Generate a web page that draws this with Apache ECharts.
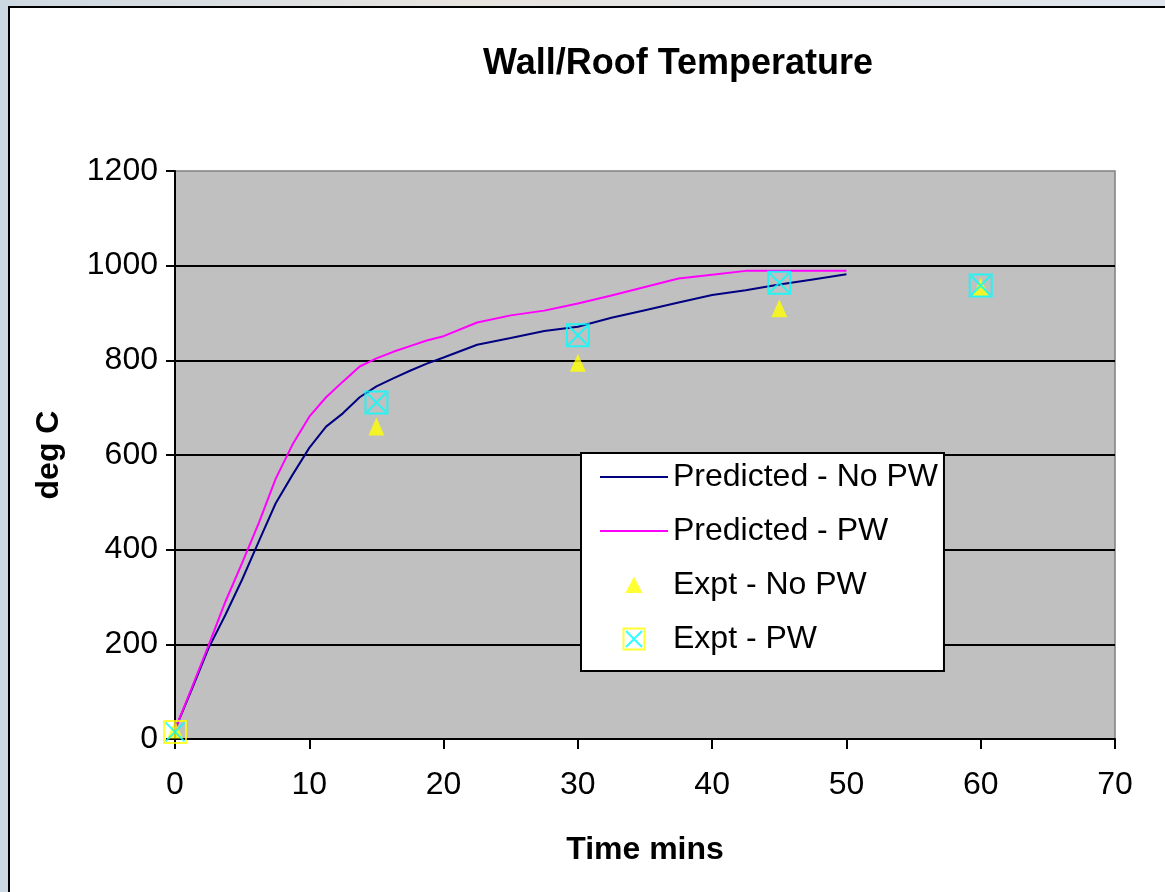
<!DOCTYPE html>
<html>
<head>
<meta charset="utf-8">
<script src="https://cdn.jsdelivr.net/npm/echarts@6/dist/echarts.min.js"></script>
<style>
  html, body { margin: 0; padding: 0; width: 1165px; height: 892px; overflow: hidden;
    background: linear-gradient(90deg, #cdd9e2 0%, #e8e4e0 40%, #dfe6ee 100%); }
  #frame { position: absolute; left: 8px; top: 6px; width: 1200px; height: 1000px;
    background: #ffffff; border: 2px solid #000; box-sizing: border-box; }
  #chart { position: absolute; left: 0; top: 0; width: 1165px; height: 892px; }
</style>
</head>
<body>
<div id="frame"></div>
<div id="chart"></div>
<script>
// ---- Data ----
const predTime = [0, 1.25, 2.5, 3.75, 5, 6.25, 7.5, 8.75, 10, 11.25, 12.5, 13.75, 15, 16.25, 17.5, 18.75, 20, 22.5, 25, 27.5, 30, 32.5, 35, 37.5, 40, 42.5, 45, 47.5, 50];
const predNoPW = [20, 105, 192, 262, 337, 418, 498, 558, 615, 660, 688, 722, 745, 762, 778, 793, 806, 833, 847, 862, 871, 890, 906, 922, 938, 948, 960, 971, 982];
const predPW   = [20, 108, 198, 290, 372, 457, 550, 622, 681, 722, 755, 787, 804, 818, 830, 842, 851, 880, 895, 905, 920, 937, 955, 973, 981, 989, 989, 989, 989];
const exptTime = [0, 15, 30, 45, 60];
const exptNoPW = [20, 660, 795, 910, 955];
const exptPW   = [15, 711, 853, 964, 958];
const xTicks = [0, 10, 20, 30, 40, 50, 60, 70];
const yTicks = [0, 200, 400, 600, 800, 1000, 1200];

const FONT = "'Liberation Sans', Arial, sans-serif";
const pairs = (xs, ys) => xs.map((x, i) => [x, ys[i]]);

const svgUrl = s => 'image://data:image/svg+xml;charset=utf-8,' + encodeURIComponent(s);
const triIcon = svgUrl("<svg xmlns='http://www.w3.org/2000/svg' width='24' height='24'><path d='M12 3.5 L20.5 20 L3.5 20 Z' fill='#ffff00'/></svg>");
const sqIcon = svgUrl("<svg xmlns='http://www.w3.org/2000/svg' width='24' height='24'><rect x='1.5' y='1.5' width='21' height='21' fill='none' stroke='#ffff00' stroke-width='2'/><path d='M4 4 L20 20 M20 4 L4 20' stroke='#00ffff' stroke-width='2' fill='none'/></svg>");
const lineIcon = 'path://M0,0L68,0L68,2L0,2Z';

const chart = echarts.init(document.getElementById('chart'), null, { renderer: 'canvas' });
chart.setOption({
  animation: false,
  backgroundColor: 'transparent',
  title: {
    text: 'Wall/Roof Temperature',
    left: 483, top: 46, padding: 0,
    textStyle: { fontFamily: FONT, fontSize: 36, fontWeight: 'bold', color: '#000' }
  },
  grid: {
    left: 175, top: 171, width: 940, height: 568,
    show: true, backgroundColor: '#c0c0c0', borderColor: '#808080', borderWidth: 1.5
  },
  legend: {
    orient: 'vertical',
    left: 581, top: 453,
    backgroundColor: '#ffffff', borderColor: '#000000', borderWidth: 2,
    padding: [8, 6, 16, 19],
    itemWidth: 68, itemHeight: 24, itemGap: 22,
    textStyle: { fontFamily: FONT, fontSize: 32, lineHeight: 32, color: '#000' },
    data: [
      { name: 'Predicted - No PW', icon: lineIcon },
      { name: 'Predicted - PW', icon: lineIcon },
      { name: 'Expt - No PW', icon: triIcon },
      { name: 'Expt - PW', icon: sqIcon }
    ]
  },
  xAxis: {
    type: 'value', min: 0, max: 70, interval: 10,
    name: 'Time mins', nameLocation: 'middle', nameGap: 95,
    nameTextStyle: { fontFamily: FONT, fontSize: 32, fontWeight: 'bold', color: '#000' },
    axisLine: { show: true, onZero: false, lineStyle: { color: '#000', width: 2 } },
    axisTick: { show: true, inside: false, length: 10, lineStyle: { color: '#000', width: 2 } },
    axisLabel: { fontFamily: FONT, fontSize: 32, color: '#000', margin: 30,
      formatter: v => xTicks.includes(v) ? String(v) : '' },
    splitLine: { show: false }
  },
  yAxis: {
    type: 'value', min: 0, max: 1200, interval: 200,
    name: 'deg C', nameLocation: 'middle', nameGap: 110,
    nameTextStyle: { fontFamily: FONT, fontSize: 32, fontWeight: 'bold', color: '#000' },
    axisLine: { show: true, onZero: false, lineStyle: { color: '#000', width: 2 } },
    axisTick: { show: true, inside: false, length: 9, lineStyle: { color: '#000', width: 2 } },
    axisLabel: { fontFamily: FONT, fontSize: 32, color: '#000', margin: 17,
      formatter: v => yTicks.includes(v) ? String(v) : '' },
    splitLine: { show: true, showMinLine: false, showMaxLine: false, lineStyle: { color: '#000', width: 2 } }
  },
  series: [
    {
      name: 'Predicted - No PW', type: 'line', data: pairs(predTime, predNoPW),
      symbol: 'none', color: '#000080', lineStyle: { color: '#000080', width: 2 }, z: 3
    },
    {
      name: 'Predicted - PW', type: 'line', data: pairs(predTime, predPW),
      symbol: 'none', color: '#ff00ff', lineStyle: { color: '#ff00ff', width: 2 }, z: 3
    },
    {
      name: 'Expt - No PW', type: 'scatter', data: pairs(exptTime, exptNoPW),
      symbol: 'triangle', symbolSize: [16, 18], color: '#ffff00',
      itemStyle: { color: '#ffff00' }, z: 4
    },
    {
      name: 'Expt - PW', type: 'scatter',
      data: pairs(exptTime, exptPW).map((p, i) => ({
        value: p, itemStyle: { borderColor: i === 0 ? '#ffff00' : '#00ffff' }
      })),
      symbol: 'rect', symbolSize: 22, color: '#00ffff',
      itemStyle: { color: 'rgba(0,0,0,0)', borderColor: '#00ffff', borderWidth: 2 }, z: 5
    },
    {
      name: 'Expt - PW marks', type: 'scatter', data: pairs(exptTime, exptPW),
      symbol: 'path://M0,0L10,10M10,0L0,10', symbolSize: 19,
      itemStyle: { color: 'rgba(0,0,0,0)', borderColor: '#00ffff', borderWidth: 2 }, z: 6
    }
  ]
});
</script>
</body>
</html>
